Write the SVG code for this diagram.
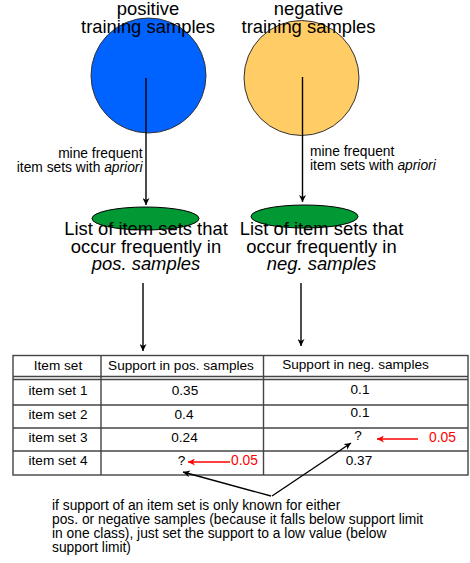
<svg xmlns="http://www.w3.org/2000/svg" width="470" height="563" viewBox="0 0 470 563">
  <style>
    text { font-family: "Liberation Sans", Arial, sans-serif; fill: #000; }
    .title { font-size: 18.4px; text-anchor: middle; }
    .small { font-size: 13.8px; }
    .cell { font-size: 13.6px; text-anchor: middle; }
    .red { fill: #ff0000; font-size: 13.8px; }
    .grid { stroke: #444; stroke-width: 1.4; fill: none; }
    .link { stroke: #000; stroke-width: 1.4; fill: none; marker-end: url(#head); }
    .redlink { stroke: #ff0000; stroke-width: 1.6; fill: none; marker-end: url(#redhead); }
  </style>
  <defs>
    <marker id="head" viewBox="0 0 10 10" refX="10" refY="5" markerWidth="7" markerHeight="7" markerUnits="userSpaceOnUse" orient="auto">
      <path d="M0,0 L10,5 L0,10 L3,5 Z" fill="#000"/>
    </marker>
    <marker id="redhead" viewBox="0 0 10 10" refX="10" refY="5" markerWidth="8" markerHeight="7" markerUnits="userSpaceOnUse" orient="auto">
      <path d="M0,0 L10,5 L0,10 L3,5 Z" fill="#ff0000"/>
    </marker>
  </defs>

  <!-- sample pools -->
  <g id="pos-samples">
    <circle cx="148.5" cy="75.5" r="57.5" fill="#0062ff" stroke="#333" stroke-width="1"/>
    <text class="title" x="148" y="15">positive</text>
    <text class="title" x="148" y="33">training samples</text>
  </g>
  <g id="neg-samples">
    <circle cx="301.5" cy="78" r="57.5" fill="#ffcc66" stroke="#333" stroke-width="1"/>
    <text class="title" x="308.5" y="15">negative</text>
    <text class="title" x="308.5" y="33">training samples</text>
  </g>

  <!-- frequent item set lists -->
  <g id="pos-itemsets">
    <ellipse cx="145.5" cy="218.5" rx="53.5" ry="11.5" fill="#009933" stroke="#000" stroke-width="1"/>
    <text class="title" x="146" y="235">List of item sets that</text>
    <text class="title" x="146" y="252.5">occur frequently in</text>
    <text class="title" x="146" y="270" font-style="italic">pos. samples</text>
  </g>
  <g id="neg-itemsets">
    <ellipse cx="304.5" cy="216.5" rx="53.5" ry="11.5" fill="#009933" stroke="#000" stroke-width="1"/>
    <text class="title" x="321.5" y="235">List of item sets that</text>
    <text class="title" x="321.5" y="252.5">occur frequently in</text>
    <text class="title" x="321.5" y="270" font-style="italic">neg. samples</text>
  </g>

  <!-- support table -->
  <g id="support-table">
    <rect class="grid" x="13" y="355.5" width="455" height="119.5"/>
    <line class="grid" x1="13" y1="376.5" x2="468" y2="376.5"/>
    <line class="grid" x1="13" y1="379.5" x2="468" y2="379.5"/>
    <line class="grid" x1="13" y1="405" x2="468" y2="405"/>
    <line class="grid" x1="13" y1="428" x2="468" y2="428"/>
    <line class="grid" x1="13" y1="451" x2="468" y2="451"/>
    <line class="grid" x1="101" y1="355.5" x2="101" y2="475"/>
    <line class="grid" x1="263.5" y1="355.5" x2="263.5" y2="475"/>

    <text class="cell" x="58" y="370">Item set</text>
    <text class="cell" x="181" y="370">Support in pos. samples</text>
    <text class="cell" x="355.5" y="369">Support in neg. samples</text>

    <text class="cell" x="58" y="395">item set 1</text>
    <text class="cell" x="58" y="419">item set 2</text>
    <text class="cell" x="58" y="442">item set 3</text>
    <text class="cell" x="58" y="465">item set 4</text>

    <text class="cell" x="185" y="395">0.35</text>
    <text class="cell" x="184" y="419">0.4</text>
    <text class="cell" x="184.5" y="442">0.24</text>
    <text class="cell" x="181.5" y="465">?</text>

    <text class="cell" x="360" y="394">0.1</text>
    <text class="cell" x="360" y="417">0.1</text>
    <text class="cell" x="358" y="440">?</text>
    <text class="cell" x="359" y="465">0.37</text>

    <text class="red" x="429" y="442">0.05</text>
    <text class="red" x="231" y="465">0.05</text>
  </g>

  <!-- annotation -->
  <g id="note">
    <text class="small" x="52" y="510">if support of an item set is only known for either</text>
    <text class="small" x="52" y="524">pos. or negative samples (because it falls below support limit</text>
    <text class="small" x="52" y="538">in one class), just set the support to a low value (below</text>
    <text class="small" x="52" y="552">support limit)</text>
  </g>

  <!-- connectors -->
  <g id="connectors">
    <line class="link" x1="146" y1="78" x2="146" y2="205"/>
    <text class="small" x="142.5" y="158" text-anchor="end">mine frequent</text>
    <text class="small" x="142.5" y="172" text-anchor="end">item sets with <tspan font-style="italic">apriori</tspan></text>

    <line class="link" x1="302.5" y1="77" x2="302.5" y2="202"/>
    <text class="small" x="310" y="156">mine frequent</text>
    <text class="small" x="310" y="170">item sets with <tspan font-style="italic">apriori</tspan></text>

    <line class="link" x1="143" y1="283" x2="143" y2="351"/>
    <line class="link" x1="301" y1="283" x2="301" y2="346"/>

    <line class="redlink" x1="418" y1="439" x2="377" y2="439"/>
    <line class="redlink" x1="230" y1="462" x2="188" y2="462"/>

    <line class="link" x1="271" y1="496" x2="183" y2="472"/>
    <line class="link" x1="272" y1="496" x2="351" y2="443"/>
  </g>
</svg>
